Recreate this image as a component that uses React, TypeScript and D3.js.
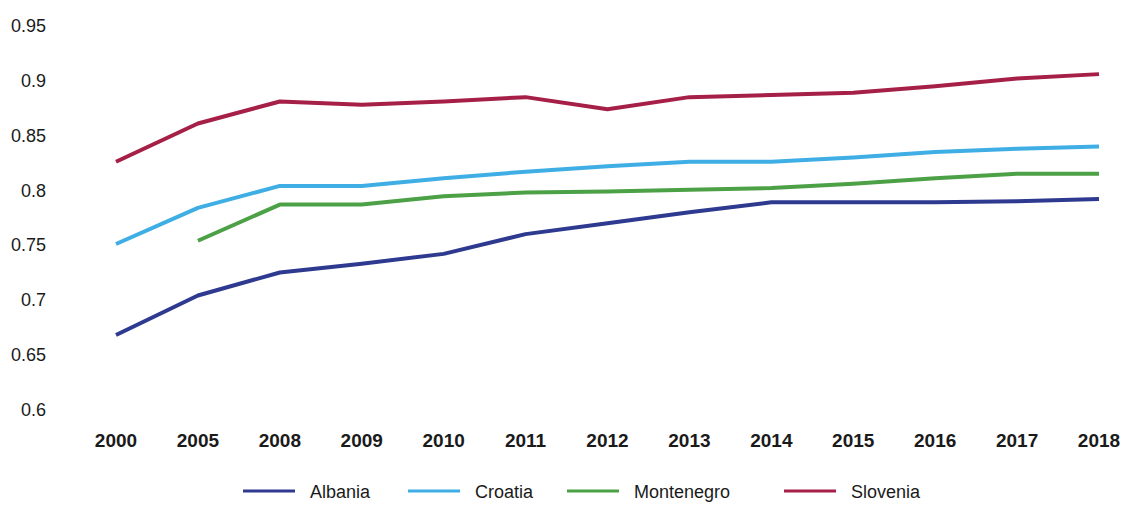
import React from "react";
import * as d3 from "d3";

const years = ["2000", "2005", "2008", "2009", "2010", "2011", "2012", "2013", "2014", "2015", "2016", "2017", "2018"];
const albania = [0.668, 0.704, 0.725, 0.733, 0.742, 0.76, 0.77, 0.78, 0.789, 0.789, 0.789, 0.79, 0.792];
const croatia = [0.751, 0.784, 0.804, 0.804, 0.811, 0.817, 0.822, 0.826, 0.826, 0.83, 0.835, 0.838, 0.84];
const montenegro: (number | null)[] = [null, 0.754, 0.787, 0.787, 0.7945, 0.798, 0.799, 0.8005, 0.802, 0.806, 0.811, 0.815, 0.815];
const slovenia = [0.826, 0.861, 0.881, 0.878, 0.881, 0.885, 0.874, 0.885, 0.887, 0.889, 0.895, 0.902, 0.906];
const yTicks = [0.6, 0.65, 0.7, 0.75, 0.8, 0.85, 0.9, 0.95];

const seriesNames = ["Albania", "Croatia", "Montenegro", "Slovenia"];
const seriesValues = [albania, croatia, montenegro, slovenia];
const colors = ["#2E3A8F", "#3FAEE4", "#4CA147", "#A51F47"];
const legendX = [243, 408, 567, 784];

const W = 1132;
const H = 505;
const FONT = "'Liberation Sans', Arial, sans-serif";

export default function App() {
  const x = d3.scalePoint<string>().domain(years).range([116, 1099]);
  const y = d3.scaleLinear().domain([0.6, 0.95]).range([409.5, 25.9]);

  const line = d3
    .line<number | null>()
    .defined((d) => d !== null)
    .x((_, i) => x(years[i]) as number)
    .y((d) => y(d as number));

  return (
    <svg width={W} height={H} style={{ position: "absolute", left: 0, top: 0, background: "#fff" }}>
      {yTicks.map((t) => (
        <text
          key={t}
          x={46}
          y={y(t)}
          dy="0.35em"
          textAnchor="end"
          fontFamily={FONT}
          fontSize={18}
          fill="#1a1a1a"
        >
          {String(t)}
        </text>
      ))}
      {years.map((yr) => (
        <text
          key={yr}
          x={x(yr) as number}
          y={446.5}
          textAnchor="middle"
          fontFamily={FONT}
          fontSize={19}
          fontWeight="bold"
          fill="#1a1a1a"
        >
          {yr}
        </text>
      ))}
      {seriesValues.map((vals, i) => (
        <path
          key={seriesNames[i]}
          d={line(vals) || ""}
          fill="none"
          stroke={colors[i]}
          strokeWidth={4}
          strokeLinejoin="round"
        />
      ))}
      {seriesNames.map((name, i) => (
        <g key={name}>
          <line x1={legendX[i]} x2={legendX[i] + 52} y1={491} y2={491} stroke={colors[i]} strokeWidth={3} />
          <text x={legendX[i] + 67} y={498} fontFamily={FONT} fontSize={18} fill="#1a1a1a">
            {name}
          </text>
        </g>
      ))}
    </svg>
  );
}
